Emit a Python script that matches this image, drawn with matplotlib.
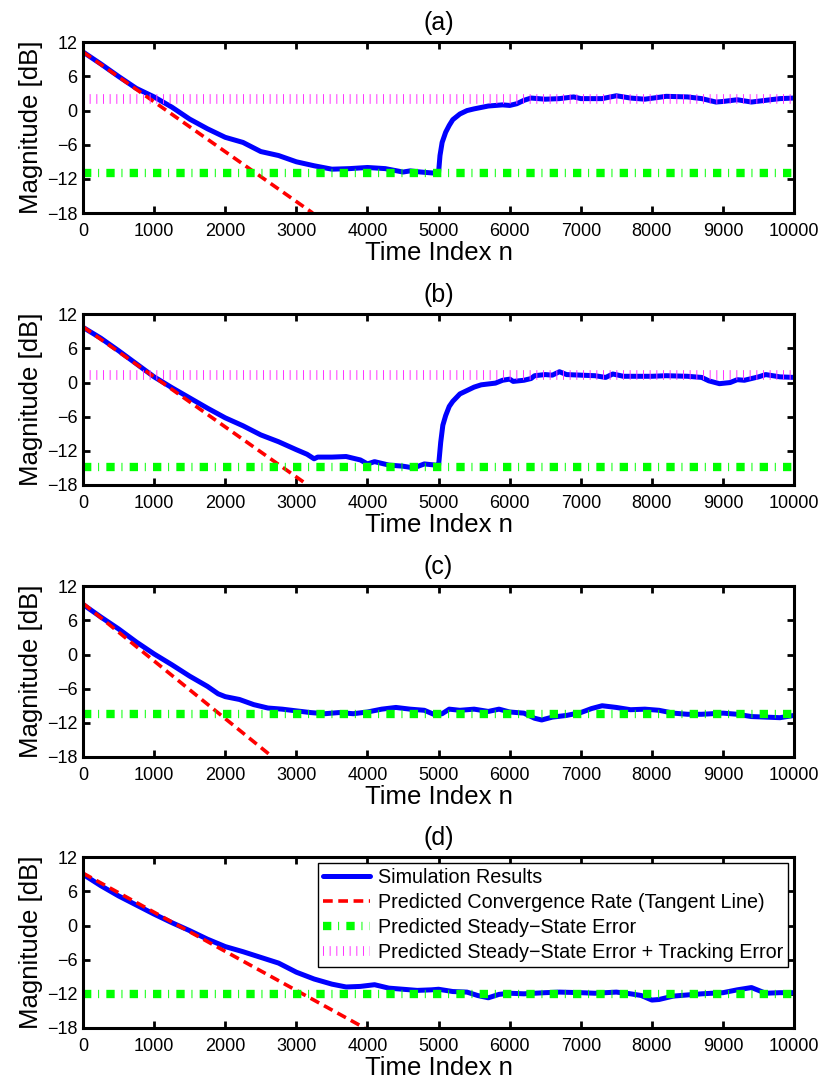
import matplotlib
matplotlib.use("Agg")
import matplotlib.pyplot as plt
from matplotlib.lines import Line2D

plt.rcParams["font.family"] = ["Liberation Sans", "DejaVu Sans"]
plt.rcParams["lines.scale_dashes"] = False

# ---- data ------------------------------------------------------------------
n_a = [0, 250, 500, 750, 1000, 1250, 1500, 1750, 2000, 2250, 2500, 2750, 3000,
       3250, 3500, 3750, 4000, 4250, 4500, 4600, 4750, 4950, 5000, 5020, 5050,
       5100, 5150, 5200, 5300, 5400, 5500, 5700, 5900, 6000, 6100, 6200, 6300,
       6500, 6700, 6900, 7000, 7300, 7500, 7700, 7900, 8200, 8500, 8700, 8900,
       9000, 9200, 9400, 9600, 9800, 10000]
sim_a = [10.3, 8.2, 6.0, 3.9, 2.4, 0.6, -1.5, -3.2, -4.7, -5.6, -7.2, -7.9, -9.0,
         -9.7, -10.3, -10.2, -10.0, -10.2, -10.8, -10.6, -10.8, -11.0, -10.9, -7.9, -5.6,
         -3.8, -2.6, -1.6, -0.6, 0.0, 0.3, 0.8, 1.0, 0.9, 1.2, 1.8, 2.2,
         2.0, 2.1, 2.4, 2.1, 2.1, 2.6, 2.2, 2.0, 2.5, 2.4, 2.1, 1.5,
         1.6, 1.9, 1.5, 1.8, 2.1, 2.2]

n_b = [0, 250, 500, 750, 1000, 1250, 1500, 1750, 2000, 2250, 2500, 2750, 3000,
       3150, 3250, 3300, 3500, 3700, 3900, 4000, 4100, 4300, 4500, 4650, 4800,
       4950, 5000, 5030, 5060, 5100, 5150, 5200, 5300, 5400, 5500, 5600, 5800,
       5900, 6000, 6050, 6200, 6300, 6350, 6500, 6600, 6700, 6800, 7000, 7200,
       7350, 7450, 7600, 8000, 8200, 8500, 8700, 8800, 8950, 9100, 9200, 9300,
       9500, 9600, 9800, 10000]
sim_b = [9.7, 7.8, 5.6, 3.3, 1.0, -0.9, -2.7, -4.5, -6.2, -7.6, -9.2, -10.4, -11.8,
         -12.6, -13.4, -13.1, -13.1, -13.0, -13.6, -14.3, -13.9, -14.5, -14.7, -15.0, -14.3,
         -14.5, -14.6, -10.5, -7.5, -5.8, -4.2, -3.3, -2.0, -1.4, -0.8, -0.4, -0.1,
         0.4, 0.6, 0.2, 0.4, 0.7, 1.2, 1.4, 1.3, 1.9, 1.4, 1.3, 1.2,
         0.9, 1.5, 1.1, 1.1, 1.2, 1.1, 0.9, 0.3, -0.2, 0.0, 0.5, 0.4,
         1.0, 1.4, 1.0, 0.9]

n_c = [0, 250, 500, 750, 1000, 1250, 1500, 1750, 1900, 2000, 2200, 2400, 2600,
       2800, 3000, 3200, 3400, 3600, 3800, 4000, 4200, 4400, 4600, 4800, 4950,
       5050, 5150, 5300, 5500, 5700, 5850, 6000, 6200, 6350, 6450, 6600, 6800,
       7000, 7150, 7300, 7500, 7700, 7900, 8100, 8300, 8500, 8700, 9000, 9200,
       9400, 9600, 9800, 10000]
sim_c = [8.8, 6.6, 4.5, 2.2, 0.1, -1.8, -3.8, -5.6, -6.9, -7.4, -7.9, -8.8, -9.4,
         -9.6, -9.9, -10.2, -10.4, -10.2, -10.4, -10.1, -9.6, -9.3, -9.6, -9.8, -10.6,
         -10.4, -9.6, -9.8, -9.6, -10.0, -9.6, -10.1, -10.3, -11.2, -11.5, -11.0, -10.7,
         -10.2, -9.5, -9.0, -9.3, -9.7, -9.6, -9.8, -10.3, -10.5, -10.5, -10.3, -10.5,
         -10.9, -11.0, -11.1, -10.7]

n_d = [0, 250, 500, 750, 1000, 1250, 1500, 1750, 2000, 2250, 2500, 2750, 3000,
       3250, 3500, 3700, 3900, 4100, 4300, 4500, 4700, 4900, 5000, 5200, 5400,
       5550, 5700, 5850, 6000, 6200, 6500, 6700, 7000, 7200, 7500, 7700, 7850,
       8000, 8100, 8300, 8500, 8700, 9000, 9200, 9400, 9500, 9600, 9800, 10000]
sim_d = [9.0, 7.0, 5.2, 3.6, 2.0, 0.5, -0.9, -2.4, -3.7, -4.6, -5.6, -6.6, -8.2,
         -9.4, -10.3, -10.8, -10.7, -10.4, -11.0, -11.2, -11.4, -11.3, -11.2, -11.6, -11.7,
         -12.3, -12.7, -12.1, -11.9, -12.0, -11.8, -11.7, -11.8, -11.9, -11.7, -12.0, -12.3,
         -13.1, -13.0, -12.4, -12.2, -12.0, -11.8, -11.3, -10.9, -11.4, -11.9, -11.8, -11.8]

# tangent lines: (n, dB) at start and where they leave the axes
tan_n = [[0, 3230], [0, 3160], [0, 2665], [0, 3960]]
tan_db = [[10.3, -18], [9.8, -18], [9.0, -18], [9.2, -18]]

steady = [-11.0, -14.8, -10.4, -12.0]
track = [2.0, 1.3, None, None]

sims = [(n_a, sim_a), (n_b, sim_b), (n_c, sim_c), (n_d, sim_d)]
titles = ["(a)", "(b)", "(c)", "(d)"]

# ---- styles -----------------------------------------------------------------
BLUE = dict(color="#0000ff", lw=3.6, solid_capstyle="round")
RED = dict(color="#ff0000", lw=2.6, dashes=(7, 4), dash_capstyle="butt")
GREEN = dict(color="#00ff00", lw=6.0, dashes=(6.0, 4.9, 0.7, 5.2), dash_capstyle="butt")
MAG = dict(color="#ff33ff", lw=7.0, dashes=(0.7, 4.1), dash_capstyle="butt")

fig = plt.figure(figsize=(8.25, 10.84), dpi=100)
bottoms = [0.8035, 0.5526, 0.3017, 0.0517]

for i in range(4):
    ax = fig.add_axes([0.1006, bottoms[i], 0.862, 0.1575])
    n, s = sims[i]
    ax.plot(n, s, label="Simulation Results", **BLUE)
    ax.plot(tan_n[i], tan_db[i], label="Predicted Convergence Rate (Tangent Line)", **RED)
    ax.plot([0, 10000], [steady[i]] * 2, label="Predicted Steady\u2212State Error", **GREEN)
    if track[i] is not None:
        ax.plot([0, 10000], [track[i]] * 2, **MAG)

    ax.set_xlim(0, 10000)
    ax.set_ylim(-18, 12)
    ax.set_xticks(range(0, 10001, 1000))
    ax.set_yticks(range(-18, 13, 6))
    ax.set_yticklabels(["\u221218", "\u221212", "\u22126", "0", "6", "12"])
    ax.tick_params(direction="in", length=5, width=2, top=True, right=True,
                   labelsize=13, pad=4)
    ax.tick_params(axis="x", pad=7)
    for sp in ax.spines.values():
        sp.set_linewidth(2.2)
    ax.set_xlabel("Time Index n", fontsize=18.5, labelpad=1)
    ax.set_ylabel("Magnitude [dB]", fontsize=18.5, labelpad=3)
    ax.set_title(titles[i], fontsize=18, pad=9)

    if i == 3:
        handles, labels = ax.get_legend_handles_labels()
        handles.append(Line2D([], [], **MAG))
        labels.append("Predicted Steady\u2212State Error + Tracking Error")
        leg = ax.legend(handles, labels, loc="upper right", fontsize=14.2,
                        handlelength=2.4, handletextpad=0.4, borderpad=0.25,
                        labelspacing=0.3, fancybox=False, framealpha=1,
                        edgecolor="black", borderaxespad=0.3)
        leg.get_frame().set_linewidth(1.0)

fig.savefig("out.png", dpi=100)
